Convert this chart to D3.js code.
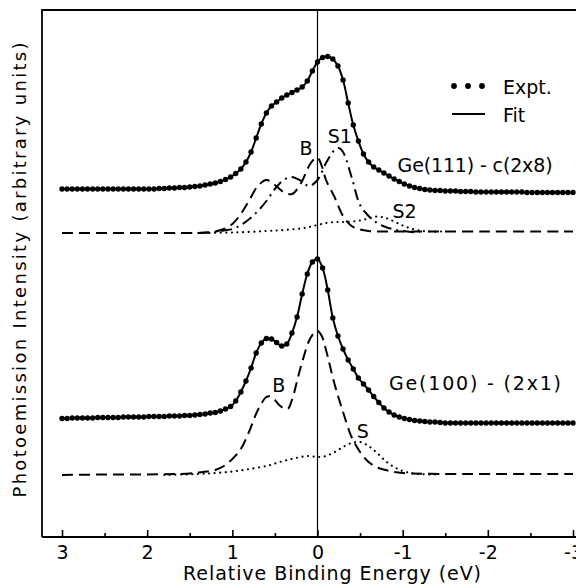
<!DOCTYPE html>
<html>
<head>
<meta charset="utf-8">
<script src="https://cdn.jsdelivr.net/npm/d3@7"></script>
<style>
  body { margin: 0; background: #fff; }
  svg { display: block; font-family: "DejaVu Sans", sans-serif; }
</style>
</head>
<body>
<svg id="chart" width="576" height="584"></svg>
<script>
// 測定点のエネルギー (eV): 3.00 から -3.00 まで 0.06 eV 刻み
const energyStep = 0.06;
const exptEnergies = d3.range(0, 101).map(i => +(3 - i * energyStep).toFixed(2));

// 実験値 Ge(111)-c(2x8)
const ge111Expt = [
    348, 348, 348, 348, 348, 348, 348, 348, 348, 348,
    348, 348, 348, 348, 348, 348, 348, 348, 348, 348.5,
    348.5, 349, 349, 349.5, 349.5, 350, 350.5, 351, 352, 353,
    354, 355.5, 357.5, 360, 363.5, 368, 375, 385, 399, 413,
    424, 431, 435, 439, 442, 444.5, 447, 450, 456, 466,
    475, 479.5, 480.5, 478, 471, 457, 434, 412, 396, 383,
    375, 370, 367, 364, 361, 358, 355.5, 353, 351, 349.5,
    348.5, 347.5, 347, 346.5, 346.5, 346, 346, 346, 345.5, 345.5,
    345.5, 345, 345, 345, 345, 345, 345, 345, 345, 345,
    345, 344.5, 344.5, 344.5, 344.5, 344.5, 344.5, 344.5, 344.5, 344.5,
    344.5
];

// 実験値 Ge(100)-(2x1)
const ge100Expt = [
    118.5, 118.5, 119, 119, 119, 119, 119, 119.5, 119.5, 119.5,
    119.5, 119.5, 120, 120, 120, 120, 120, 120.5, 120.5, 120.5,
    120.5, 121, 121, 121, 121.5, 121.5, 122, 122.5, 123, 124,
    124.5, 126, 128, 130.5, 136, 145, 156, 169, 184, 194,
    198.5, 198, 194.5, 191, 193, 204, 220, 243, 263, 275,
    278, 269, 247, 219, 201, 188, 177, 168, 159, 153,
    147, 140.5, 134.5, 129, 125, 122, 120, 118.5, 117.5, 116.5,
    116, 115.5, 115, 115, 114.5, 114, 114, 114, 114, 114,
    114, 114, 114, 114, 114, 114, 114, 114, 114, 114,
    114, 114, 114, 114, 114, 114, 114, 114, 114, 114,
    114
];

// 成分 [エネルギー, 強度]
const ge111Bulk = [[3.0,304],[2.5,304],[2.0,304],[1.5,304],[1.4,304],[1.3,304.5],[1.2,305.5],[1.1,308],[1.0,313],[0.9,323],[0.8,337],[0.7,351],[0.6,357],[0.5,352],[0.4,345],[0.3,343],[0.2,353],[0.1,371],[0.05,377],[0,379.5],[-0.05,371],[-0.1,357],[-0.2,340],[-0.3,321],[-0.4,311],[-0.5,307.5],[-0.6,306],[-0.7,305.5],[-1.0,305.5],[-2.0,305.5],[-3.0,305.5]];
const ge111S1 = [[1.4,304],[1.2,305],[1.1,306.5],[1.0,308],[0.9,312],[0.8,318],[0.7,326],[0.6,336],[0.5,348],[0.4,357],[0.3,360],[0.2,356.5],[0.1,351],[0.0,357],[-0.1,374],[-0.2,387],[-0.25,389],[-0.3,385],[-0.4,360],[-0.5,332],[-0.6,321],[-0.7,314],[-0.8,310],[-0.9,307.5],[-1.0,306],[-1.1,305],[-1.2,304.5]];
const ge111S2 = [[1.4,304],[1.0,304.5],[0.6,306],[0.4,307],[0.2,308.5],[0.1,310],[0.0,312],[-0.1,314],[-0.2,315],[-0.3,315],[-0.4,315.5],[-0.5,316.5],[-0.6,318.5],[-0.7,320.5],[-0.8,319],[-0.9,315.5],[-1.0,311.5],[-1.1,308.5],[-1.2,306.5],[-1.3,305.5],[-1.5,305.5]];
const ge100Bulk = [[3.0,62],[2.5,62.5],[2.0,62.5],[1.5,63.5],[1.4,64.5],[1.3,65.5],[1.2,67],[1.1,71],[1.0,78],[0.9,88],[0.8,106],[0.7,127],[0.6,140],[0.55,140.5],[0.5,137],[0.45,132],[0.4,129],[0.35,128],[0.3,137],[0.2,169],[0.1,196],[0.05,203],[0,206],[-0.05,201],[-0.1,187],[-0.2,153],[-0.3,125],[-0.4,100],[-0.5,85],[-0.6,75],[-0.7,69.5],[-0.8,67],[-0.9,65],[-1.0,64],[-1.5,63],[-2.0,63],[-3.0,63]];
const ge100Surface = [[1.8,62],[1.4,63],[1.2,64],[1.0,65.5],[0.8,68],[0.6,71],[0.5,73.5],[0.4,76],[0.3,78],[0.2,80],[0.1,81],[0.0,80],[-0.1,81],[-0.2,85],[-0.3,90],[-0.4,94],[-0.5,95],[-0.6,91],[-0.7,84],[-0.8,76],[-0.9,70],[-1.0,66],[-1.1,64],[-1.2,63],[-1.4,62.5]];

// 目盛り
const majorTicks = [3, 2, 1, 0, -1, -2, -3];
const minorTicks = [2.5, 1.5, 0.5, -0.5, -1.5, -2.5];

const svg = d3.select('#chart');
const frameLeft = 42, frameTop = 10, frameBottom = 537, frameRight = 576;

const x = d3.scaleLinear().domain([3, -3]).range([62, 573]);
const y = d3.scaleLinear().domain([0, 527]).range([frameBottom, frameTop]);

// 枠 (左と上)
svg.append('path')
    .attr('d', `M${frameLeft},${frameBottom}V${frameTop}H${frameRight}`)
    .attr('fill', 'none')
    .attr('stroke', '#000')
    .attr('stroke-width', 1.8);

// 0 eV の縦線
svg.append('line')
    .attr('x1', x(0)).attr('x2', x(0))
    .attr('y1', frameTop).attr('y2', frameBottom)
    .attr('stroke', '#000')
    .attr('stroke-width', 1.2);

// x軸
const axis = d3.axisBottom(x)
    .tickValues(majorTicks)
    .tickSizeInner(-7)
    .tickSizeOuter(0)
    .tickPadding(9)
    .tickFormat(d => String(d));
const gAxis = svg.append('g').attr('transform', `translate(0,${frameBottom})`).call(axis);
gAxis.select('.domain').remove();
gAxis.selectAll('line').attr('stroke-width', 1.6);
gAxis.selectAll('text').attr('font-size', 19).attr('font-family', '"DejaVu Sans", sans-serif').attr('fill', '#000');

const minorAxis = d3.axisBottom(x)
    .tickValues(minorTicks)
    .tickSizeInner(-4)
    .tickSizeOuter(0)
    .tickFormat('');
const gMinor = svg.append('g').attr('transform', `translate(0,${frameBottom})`).call(minorAxis);
gMinor.select('.domain').remove();
gMinor.selectAll('line').attr('stroke-width', 1.6);

svg.append('line')
    .attr('x1', frameLeft).attr('x2', frameRight)
    .attr('y1', frameBottom).attr('y2', frameBottom)
    .attr('stroke', '#000')
    .attr('stroke-width', 1.8);

// 軸ラベル
svg.append('text')
    .attr('x', 332).attr('y', 580)
    .attr('text-anchor', 'middle')
    .attr('font-size', 19)
    .attr('textLength', 298)
    .attr('lengthAdjust', 'spacing')
    .text('Relative Binding Energy (eV)');

svg.append('text')
    .attr('transform', 'translate(26,270) rotate(-90)')
    .attr('text-anchor', 'middle')
    .attr('font-size', 18)
    .attr('textLength', 455)
    .attr('lengthAdjust', 'spacing')
    .text('Photoemission Intensity (arbitrary units)');

// 線の生成
const smoothLine = d3.line()
    .x(d => x(d[0]))
    .y(d => y(d[1]))
    .curve(d3.curveCatmullRom.alpha(0.5));

const styles = {
    dashed: '11,6',
    dashdot: '11,5,2,5',
    dotted: '0.1,5.5'
};

function drawComponent(data, style) {
    svg.append('path')
        .datum(data)
        .attr('d', smoothLine)
        .attr('fill', 'none')
        .attr('stroke', '#000')
        .attr('stroke-width', style === 'dotted' ? 2.1 : 2)
        .attr('stroke-linecap', style === 'dotted' ? 'round' : 'butt')
        .attr('stroke-dasharray', styles[style]);
}

drawComponent(ge111Bulk, 'dashed');
drawComponent(ge111S1, 'dashdot');
drawComponent(ge111S2, 'dotted');
drawComponent(ge100Bulk, 'dashed');
drawComponent(ge100Surface, 'dotted');

// 実験値とフィット
function drawSpectrum(values) {
    const pts = exptEnergies.map((e, i) => [e, values[i]]);
    svg.append('path')
        .datum(pts)
        .attr('d', smoothLine)
        .attr('fill', 'none')
        .attr('stroke', '#000')
        .attr('stroke-width', 2);
    svg.append('g')
        .selectAll('circle')
        .data(pts)
        .enter()
        .append('circle')
        .attr('cx', d => x(d[0]))
        .attr('cy', d => y(d[1]))
        .attr('r', 2.7)
        .attr('fill', '#000');
}

drawSpectrum(ge111Expt);
drawSpectrum(ge100Expt);

// ラベル
const labels = [
    { text: 'B', e: 0.21, v: 382 },
    { text: 'S1', e: -0.12, v: 394 },
    { text: 'S2', e: -0.88, v: 319 },
    { text: 'Ge(111) - c(2x8)', e: -0.94, v: 365, len: 155 },
    { text: 'B', e: 0.53, v: 145 },
    { text: 'S', e: -0.46, v: 99 },
    { text: 'Ge(100) - (2x1)', e: -0.84, v: 147, len: 172 }
];

labels.forEach(l => {
    const t = svg.append('text')
        .attr('x', x(l.e))
        .attr('y', y(l.v))
        .attr('font-size', 19)
        .text(l.text);
    if (l.len) t.attr('textLength', l.len).attr('lengthAdjust', 'spacing');
});

// 凡例
const legend = svg.append('g');
legend.selectAll('circle')
    .data([454, 468, 482])
    .enter()
    .append('circle')
    .attr('cx', d => d)
    .attr('cy', 86)
    .attr('r', 2.9)
    .attr('fill', '#000');
legend.append('text').attr('x', 503).attr('y', 94).attr('font-size', 19).text('Expt.');
legend.append('line')
    .attr('x1', 452).attr('x2', 485)
    .attr('y1', 114).attr('y2', 114)
    .attr('stroke', '#000')
    .attr('stroke-width', 2);
legend.append('text').attr('x', 503).attr('y', 122).attr('font-size', 19).text('Fit');
</script>
</body>
</html>
